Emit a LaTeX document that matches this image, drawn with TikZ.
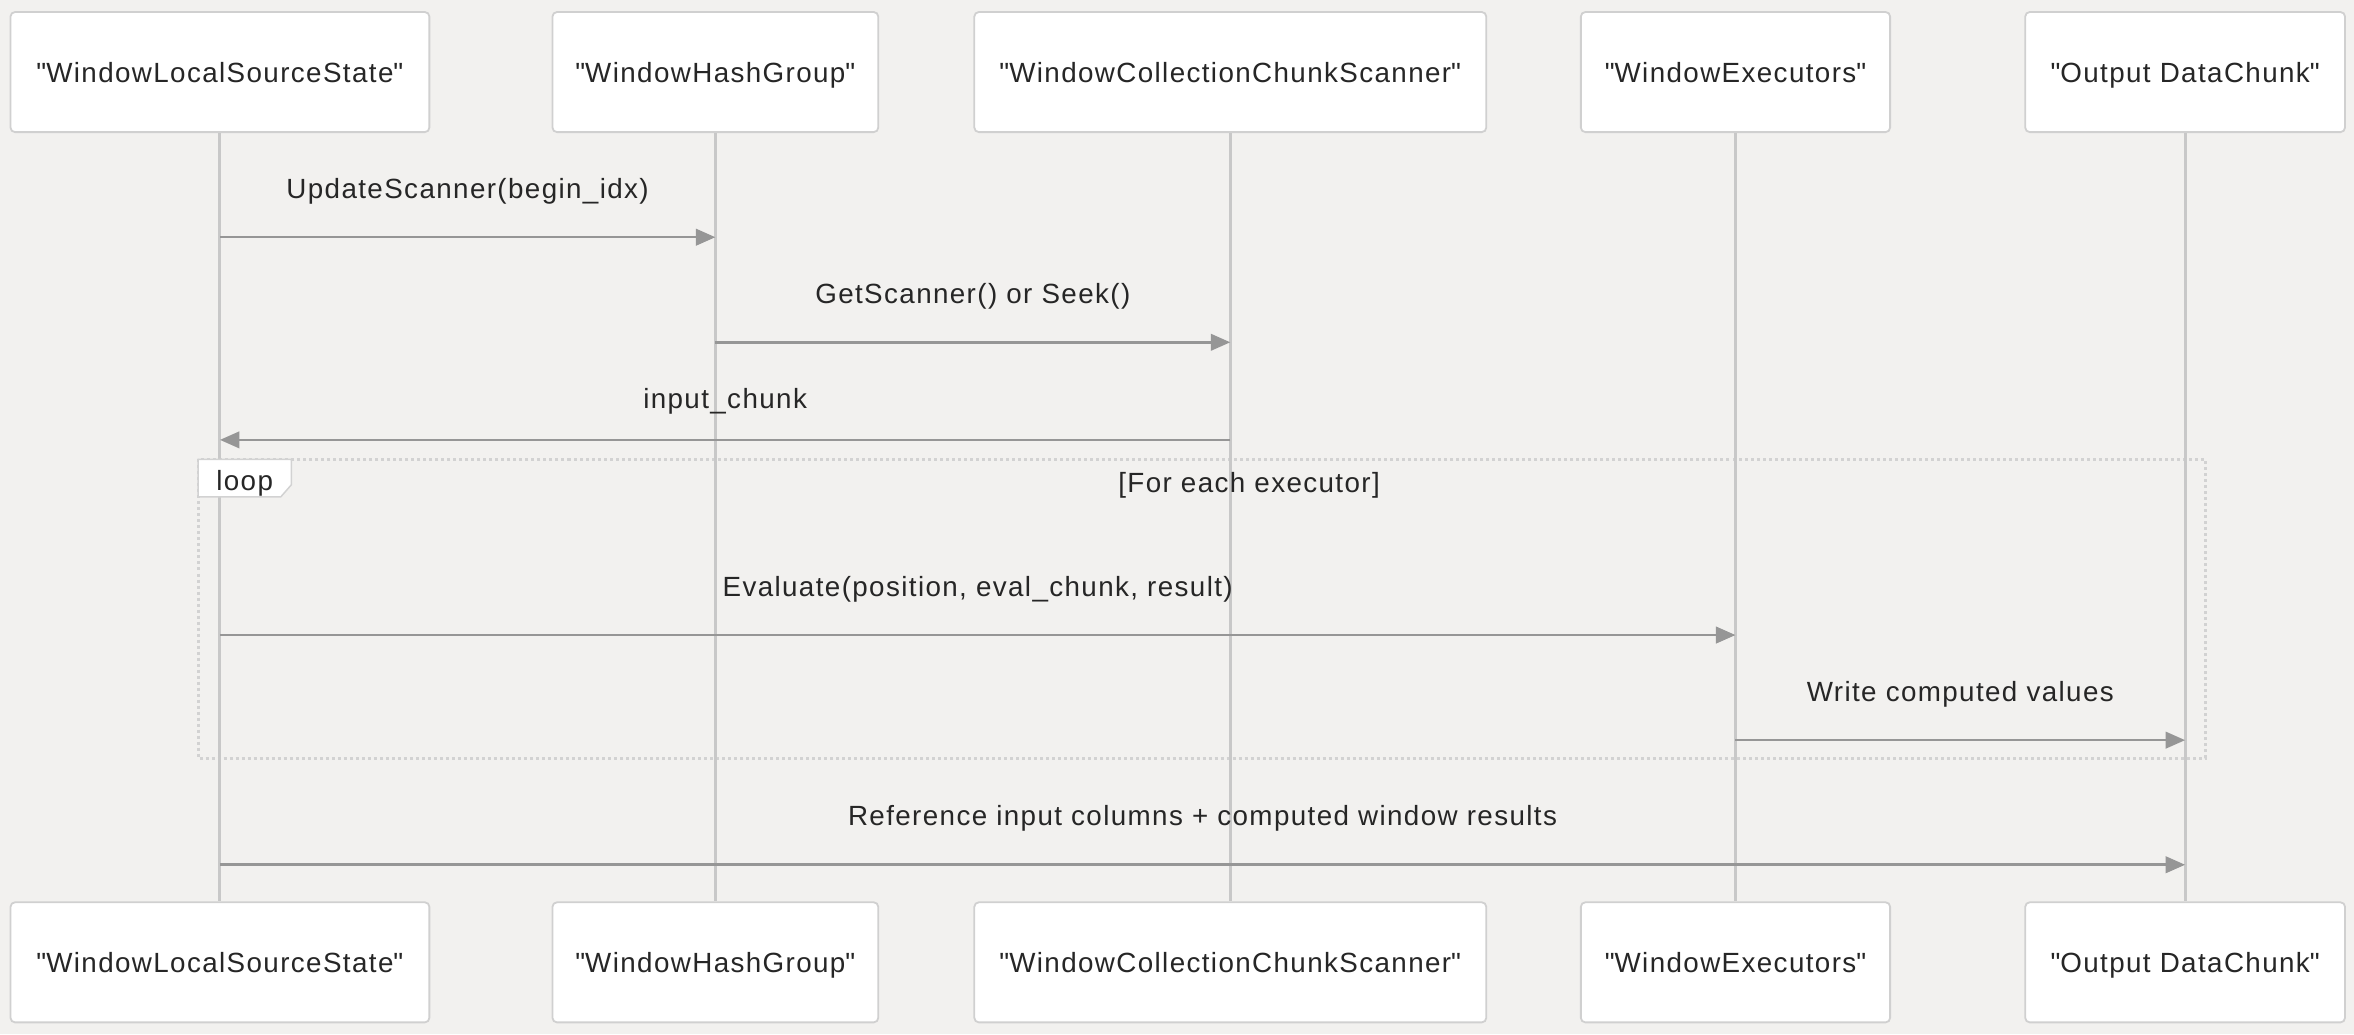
\documentclass[tikz,border=0pt]{standalone}
\usepackage{fontspec}
\setmainfont{Liberation Sans}[LetterSpace=5]
\usetikzlibrary{arrows.meta,positioning}
\definecolor{bgcol}{HTML}{F2F1EF}
\definecolor{txtcol}{HTML}{262626}
\definecolor{boxline}{HTML}{D0D0D0}
\definecolor{lifecol}{HTML}{C8C8C8}
\definecolor{arrowcol}{HTML}{969696}
\definecolor{loopcol}{HTML}{D2D2D2}
\newcommand{\qt}[1]{\textquotedbl#1\textquotedbl}
\begin{document}
\begin{tikzpicture}[x=1pt,y=-1pt,
    actor/.style={draw=boxline,line width=1.2pt,fill=white,rounded corners=3pt,minimum height=80pt,
        text height=14pt,text depth=0pt,font=\fontsize{18.5}{22}\selectfont,text=txtcol},
    lbl/.style={font=\fontsize{18.5}{22}\selectfont,text=txtcol},
    life/.style={draw=lifecol,line width=2pt},
    msg/.style={draw=arrowcol,line width=1.7pt,-{Triangle[length=13pt,width=11pt]}}]
    \fill[bgcol] (0,0) rectangle (1568,689);
    \useasboundingbox (0,0) rectangle (1568,689);
    % loop frame
    \draw[loopcol,line width=2pt,dash pattern=on 2pt off 2pt] (132,306) rectangle (1469,505);
    % participants, top and bottom, with their lifelines
    \foreach \n/\x/\w/\t in {src/146.5/279/{\qt{WindowLocalSourceState}},
                             hash/476.5/217/{\qt{WindowHashGroup}},
                             scan/819.5/341/{\qt{WindowCollectionChunkScanner}},
                             exec/1156/206/{\qt{WindowExecutors}},
                             out/1455.5/213/{\qt{Output DataChunk}}} {
        \node[actor,minimum width=\w pt] (\n top) at (\x,48) {\t};
        \node[actor,minimum width=\w pt] (\n bot) at (\x,641) {\t};
        \draw[life] (\n top) -- (\n bot);
    }
    \filldraw[fill=white,draw=loopcol,line width=1pt] (132,306) -- (194,306) -- (194,323) -- (187,331) -- (132,331) -- cycle;
    \node[lbl,anchor=base] (looptag) at (163,327) {loop};
    \node[lbl,anchor=base] (loopcond) at (832,328) {[For each executor]};
    % messages
    \draw[msg] (srctop |- 0,158) -- (hashtop |- 0,158) node[lbl,midway,anchor=base,yshift=26pt] (m1) {UpdateScanner(begin\_idx)};
    \draw[msg] (hashtop |- 0,228) -- (scantop |- 0,228) node[lbl,midway,anchor=base,yshift=26pt] (m2) {GetScanner() or Seek()};
    \draw[msg] (scantop |- 0,293) -- (srctop |- 0,293) node[lbl,midway,anchor=base,yshift=21pt] (m3) {input\_chunk};
    \draw[msg] (srctop |- 0,423) -- (exectop |- 0,423) node[lbl,midway,anchor=base,yshift=26pt] (m4) {Evaluate(position, eval\_chunk, result)};
    \draw[msg] (exectop |- 0,493) -- (outtop |- 0,493) node[lbl,midway,anchor=base,yshift=26pt] (m5) {Write computed values};
    \draw[msg] (srctop |- 0,576) -- (outtop |- 0,576) node[lbl,midway,anchor=base,yshift=26pt] (m6) {Reference input columns + computed window results};
\end{tikzpicture}
\end{document}
